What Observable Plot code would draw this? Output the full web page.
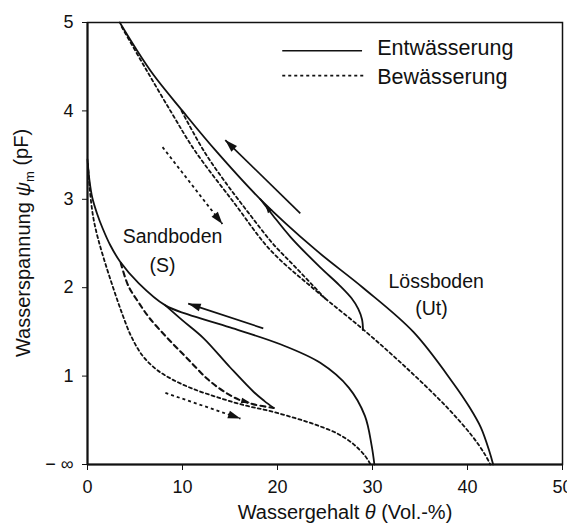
<!DOCTYPE html>
<html><head><meta charset="utf-8">
<script src="https://cdn.jsdelivr.net/npm/d3@7"></script>
<script src="https://cdn.jsdelivr.net/npm/@observablehq/plot@0.6"></script>
<style>body{margin:0;background:#fff} svg{display:block}</style>
</head><body><div id="chart"></div>
<script>
// ---- data: [θ (Vol.-%), pF] ----
const xTicks = [0, 10, 20, 30, 40, 50];
const yTicks = [0, 1, 2, 3, 4, 5];
const yTickLabels = ["− ∞", "1", "2", "3", "4", "5"];

const lossDrying = [[3.4,5.0],[5,4.72],[7,4.4],[10,4.0],[13.5,3.55],[18.2,3.0],[24,2.43],[29,2.0],[34.3,1.5],[38.5,0.92],[40.2,0.65],[41.4,0.42],[42.3,0.15],[42.7,0]];
const lossWetting = [[3.6,4.95],[6,4.5],[8.9,3.97],[11.3,3.55],[15.5,2.95],[19.3,2.42],[24,1.97],[29.1,1.52],[33.5,1.1],[37.9,0.64],[40.5,0.32],[41.8,0.12],[42.4,0]];
const lossScanWetting = [[9.9,4.0],[10.6,3.86],[12.4,3.52],[14.6,3.18],[17,2.84],[19.5,2.5],[22,2.22],[25,1.88]];
const lossScanDrying = [[29.0,1.52],[28.9,1.64],[28.5,1.76],[27.8,1.88],[26.5,2.03],[24.5,2.23],[21.4,2.57],[19.5,2.82],[18.2,3.0]];

const sandDrying = [[0,3.45],[0.2,3.22],[0.5,3.02],[1.0,2.84],[1.6,2.67],[2.4,2.48],[3.4,2.3],[5.4,2.05],[8.2,1.8],[10.5,1.7],[15,1.55],[20.3,1.36],[24.5,1.15],[27.5,0.87],[29.2,0.55],[29.9,0.22],[30.2,0]];
const sandWetting = [[0.05,3.4],[0.25,3.1],[0.6,2.8],[1.05,2.58],[1.8,2.3],[2.7,2.0],[3.6,1.72],[4.6,1.45],[5.8,1.23],[7.2,1.08],[8.8,0.97],[11,0.86],[13.7,0.76],[16.5,0.67],[19,0.61],[21.7,0.53],[24,0.45],[26.3,0.35],[28.0,0.23],[29.2,0.1],[29.8,0]];
const sandScanWetting = [[3.5,2.28],[4.3,2.02],[5.4,1.83],[6.5,1.66],[8.5,1.42],[10.5,1.2],[12.6,0.97],[14.3,0.83],[16,0.73],[17.5,0.68],[19.6,0.64]];
const sandScanDrying = [[19.6,0.64],[18.6,0.72],[17.5,0.82],[15,1.1],[12.2,1.43],[10,1.63],[8.2,1.8]];

// free arrows: tail -> tip
const solidArrows = [{x1:22.4,y1:2.84,x2:14.5,y2:3.67},{x1:18.5,y1:1.54,x2:10.6,y2:1.82}];
const dashedArrows = [{x1:7.9,y1:3.59,x2:14.2,y2:2.72},{x1:8.2,y1:0.81,x2:16.1,y2:0.52}];
// small heads on curves
const curveHeads = [{x1:19.5,y1:2.82,x2:18.7,y2:2.94},{x1:16,y1:0.73,x2:17.1,y2:0.7}];

const legendSolid = [{label:"Entwässerung"}];
const legendDashed = [{label:"Bewässerung"}];
const soilLabels = [{t:"Sandboden",x:8.95,y:2.58},{t:"(S)",x:7.9,y:2.25},{t:"Lössboden",x:36.7,y:2.07},{t:"(Ut)",x:36.2,y:1.76}];

// ---- layout ----
const W = 567, H = 523, mL = 87, mR = 5, mT = 22, mB = 59;
const kx = (W - mL - mR) / 50, ky = (H - mT - mB) / 5;
const ang = d => Math.atan2((d.x2 - d.x1) * kx, (d.y2 - d.y1) * ky) * 180 / Math.PI;
const head = {draw(ctx, size) { const r = Math.sqrt(size / Math.PI); const L = 2.5 * r, w = 0.8 * r;
  ctx.moveTo(0, 0); ctx.lineTo(-w, L); ctx.lineTo(w, L); ctx.closePath(); }};
const ink = "#111";
const X = d => d[0], Y = d => d[1];
const solid = {x: X, y: Y, curve: "catmull-rom", stroke: ink, strokeWidth: 1.8};
const dashed = {x: X, y: Y, curve: "catmull-rom", stroke: ink, strokeWidth: 1.8, strokeDasharray: "3,3"};

const plot = Plot.plot({
  width: W, height: H,
  marginLeft: mL, marginRight: mR, marginTop: mT, marginBottom: mB,
  style: {fontFamily: "Arial, 'Liberation Sans', Helvetica, sans-serif", fontSize: "18px", color: ink, background: "#fff"},
  x: {domain: [0, 50], ticks: xTicks, tickSize: 6, tickPadding: 10, label: null},
  y: {domain: [0, 5], ticks: yTicks, tickSize: 5, tickPadding: 9, label: null,
      tickFormat: d => yTickLabels[yTicks.indexOf(d)]},
  marks: [
    Plot.frame({stroke: ink, strokeWidth: 1.5}),
    Plot.ruleX([0], {stroke: ink, strokeWidth: 2}),
    Plot.ruleY([0], {stroke: ink, strokeWidth: 2}),
    Plot.line(lossDrying, solid),
    Plot.line(lossWetting, dashed),
    Plot.line(lossScanWetting, dashed),
    Plot.line(lossScanDrying, solid),
    Plot.line(sandDrying, solid),
    Plot.line(sandWetting, dashed),
    Plot.line(sandScanWetting, {...dashed, strokeWidth: 2.1, strokeDasharray: "5,4"}),
    Plot.line(sandScanDrying, solid),
    Plot.link(solidArrows, {x1: "x1", y1: "y1", x2: "x2", y2: "y2", stroke: ink, strokeWidth: 1.7}),
    Plot.link(dashedArrows, {x1: "x1", y1: "y1", x2: "x2", y2: "y2", stroke: ink, strokeWidth: 1.8, strokeDasharray: "3,3"}),
    Plot.dot([...solidArrows, ...dashedArrows], {x: "x2", y: "y2", r: 5, symbol: head, fill: ink, stroke: "none", rotate: ang}),
    Plot.dot(curveHeads, {x: "x2", y: "y2", r: 3.5, symbol: head, fill: ink, stroke: "none", rotate: ang}),
    Plot.text(soilLabels, {x: "x", y: "y", text: "t", fontSize: 19.5, fill: ink, textAnchor: "middle"}),
    Plot.link(legendSolid, {x1: 20.5, x2: 28.9, y1: 4.68, y2: 4.68, stroke: ink, strokeWidth: 1.6}),
    Plot.link(legendDashed, {x1: 20.5, x2: 29.1, y1: 4.40, y2: 4.40, stroke: ink, strokeWidth: 1.8, strokeDasharray: "3,3"}),
    Plot.text(legendSolid, {x: 30.5, y: 4.71, text: "label", fontSize: 21.5, fill: ink, textAnchor: "start"}),
    Plot.text(legendDashed, {x: 30.5, y: 4.38, text: "label", fontSize: 21.5, fill: ink, textAnchor: "start"})
  ]
});

const svg = d3.select(plot);
const yl = svg.append("text").attr("transform", "translate(30,243) rotate(-90)")
  .attr("text-anchor", "middle").attr("font-size", 20).attr("fill", ink);
yl.append("tspan").text("Wasserspannung ");
yl.append("tspan").attr("font-style", "italic").text("ψ");
yl.append("tspan").attr("font-size", 13).attr("dy", "0.3em").text("m");
yl.append("tspan").attr("dy", "-0.3em").text(" (pF)");
const xl = svg.append("text").attr("x", 345).attr("y", 519)
  .attr("text-anchor", "middle").attr("font-size", 20).attr("fill", ink);
xl.append("tspan").text("Wassergehalt ");
xl.append("tspan").attr("font-style", "italic").text("θ");
xl.append("tspan").text(" (Vol.-%)");
document.getElementById("chart").append(plot);
</script>
</body></html>
